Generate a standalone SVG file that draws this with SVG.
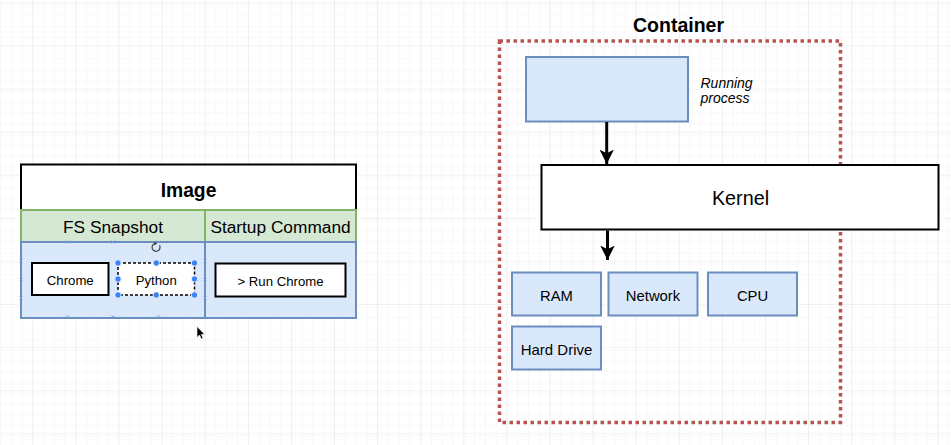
<svg xmlns="http://www.w3.org/2000/svg" width="951" height="445" viewBox="0 0 951 445">
<defs>
<style>
.t{font-family:"Liberation Sans",Arial,sans-serif;fill:#000;text-anchor:middle}
.blue{fill:#dae8fc;stroke:#6c8ebf;stroke-width:2}
.green{fill:#d5e8d4;stroke:#82b366;stroke-width:2}
.blk{fill:#fff;stroke:#000;stroke-width:2}
.conn{stroke:#000;stroke-width:3;fill:none}
.h{fill:#3b82f6;stroke:#fff;stroke-width:0.8}
.x{stroke:#6a9be0;stroke-width:0.9}
</style>
<pattern id="minor" patternUnits="userSpaceOnUse" x="32.3" y="2.3" width="10.775" height="10.775">
<path d="M0 0H10.775M0 0V10.775" stroke="#f2f2f2" stroke-width="1" fill="none"/>
</pattern>
<pattern id="major" patternUnits="userSpaceOnUse" x="32.3" y="2.3" width="43.1" height="43.1">
<rect width="43.1" height="43.1" fill="url(#minor)"/>
<path d="M0 0H43.1M0 0V43.1" stroke="#e6e6e6" stroke-width="1" fill="none"/>
</pattern>
<marker id="ah" viewBox="0 0 10 10" refX="10" refY="5" markerWidth="4.8" markerHeight="4.8" markerUnits="strokeWidth" orient="auto">
<path d="M0 0L10 5L0 10L2.5 5Z" fill="#000"/>
</marker>
</defs>
<rect width="951" height="445" fill="#fff"/>
<rect width="951" height="445" fill="url(#major)"/>

<g id="image">
<rect class="blk" x="21" y="164.5" width="335" height="45.5"/>
<text class="t" x="188.5" y="196.5" font-size="19.3" font-weight="bold">Image</text>
<rect class="green" x="21" y="210" width="184" height="32"/>
<text class="t" x="113" y="232.5" font-size="17.3">FS Snapshot</text>
<rect class="green" x="205" y="210" width="151" height="32"/>
<text class="t" x="280.5" y="232.5" font-size="17.3">Startup Command</text>
<rect class="blue" x="21" y="242" width="184" height="76"/>
<rect class="blue" x="205" y="242" width="151" height="76"/>
</g>
<g id="fs-marks">
<path class="x" d="M66 240.5l3 3M69 240.5l-3 3M111.5 240.5l3 3M114.5 240.5l-3 3M157 240.5l3 3M160 240.5l-3 3M66 315.5l3 3M69 315.5l-3 3M111.5 315.5l3 3M114.5 315.5l-3 3M157 315.5l3 3M160 315.5l-3 3M19.5 259.5l3 3M22.5 259.5l-3 3M19.5 278l3 3M22.5 278l-3 3M19.5 296.5l3 3M22.5 296.5l-3 3M203.5 259.5l3 3M206.5 259.5l-3 3M203.5 278l3 3M206.5 278l-3 3M203.5 296.5l3 3M206.5 296.5l-3 3"/>
</g>
<g id="chrome">
<rect class="blk" x="32" y="263" width="76.5" height="32"/>
<text class="t" x="70.25" y="284.5" font-size="13.2">Chrome</text>
</g>
<g id="python">
<rect x="118" y="263" width="76.5" height="32" fill="#fff" stroke="#000" stroke-width="1.5" stroke-dasharray="3 2"/>
<text class="t" x="156.25" y="284.5" font-size="13.2">Python</text>
<circle class="h" cx="118" cy="263" r="3.2"/><circle class="h" cx="156.25" cy="263" r="3.2"/><circle class="h" cx="194.5" cy="263" r="3.2"/>
<circle class="h" cx="118" cy="279" r="3.2"/><circle class="h" cx="194.5" cy="279" r="3.2"/>
<circle class="h" cx="118" cy="295" r="3.2"/><circle class="h" cx="156.25" cy="295" r="3.2"/><circle class="h" cx="194.5" cy="295" r="3.2"/>
<path d="M159.5 245.2A4 4 0 1 1 155.5 243.3" fill="none" stroke="#444" stroke-width="1.2"/>
<path d="M154.3 241.3L157.2 243.5L154.3 245.5Z" fill="#444"/>
</g>
<g id="run-chrome">
<rect class="blk" x="215.5" y="263.5" width="130" height="33"/>
<text class="t" x="280.5" y="285.5" font-size="13.2">&gt; Run Chrome</text>
</g>
<path d="M197 326.5V337.5L199.5 335L201.3 339L203 338.2L201.3 334.4L204.5 334.2Z" fill="#000" stroke="#fff" stroke-width="0.6"/>

<g id="container">
<rect x="499.5" y="41" width="341" height="381.5" fill="none" stroke="#b85450" stroke-width="3.5" stroke-dasharray="3.5 3.5"/>
<text class="t" x="678.5" y="32" font-size="19.5" font-weight="bold">Container</text>
</g>
<g id="running-process">
<rect class="blue" x="526" y="57" width="162" height="64.5"/>
<text x="700.5" y="87.5" font-size="14" font-style="italic" font-family="Liberation Sans,Arial,sans-serif">Running</text>
<text x="700.5" y="103" font-size="14" font-style="italic" font-family="Liberation Sans,Arial,sans-serif">process</text>
</g>
<g id="kernel">
<rect class="blk" x="541.5" y="165" width="397" height="64.5"/>
<text class="t" x="740.5" y="204.5" font-size="19.8">Kernel</text>
</g>
<g id="ram"><rect class="blue" x="512" y="272.5" width="89" height="43"/><text class="t" x="556.5" y="300.5" font-size="14.8">RAM</text></g>
<g id="network"><rect class="blue" x="608.5" y="272.5" width="89" height="43"/><text class="t" x="653" y="300.5" font-size="14.8">Network</text></g>
<g id="cpu"><rect class="blue" x="708" y="272.5" width="89" height="43"/><text class="t" x="752.5" y="300.5" font-size="14.8">CPU</text></g>
<g id="hard-drive"><rect class="blue" x="512" y="326.5" width="89" height="43"/><text class="t" x="556.5" y="354.5" font-size="15">Hard Drive</text></g>

<g id="connectors">
<path class="conn" d="M606.7 122V164" marker-end="url(#ah)"/>
<path class="conn" d="M607.5 230.5V260" marker-end="url(#ah)"/>
</g>
</svg>
